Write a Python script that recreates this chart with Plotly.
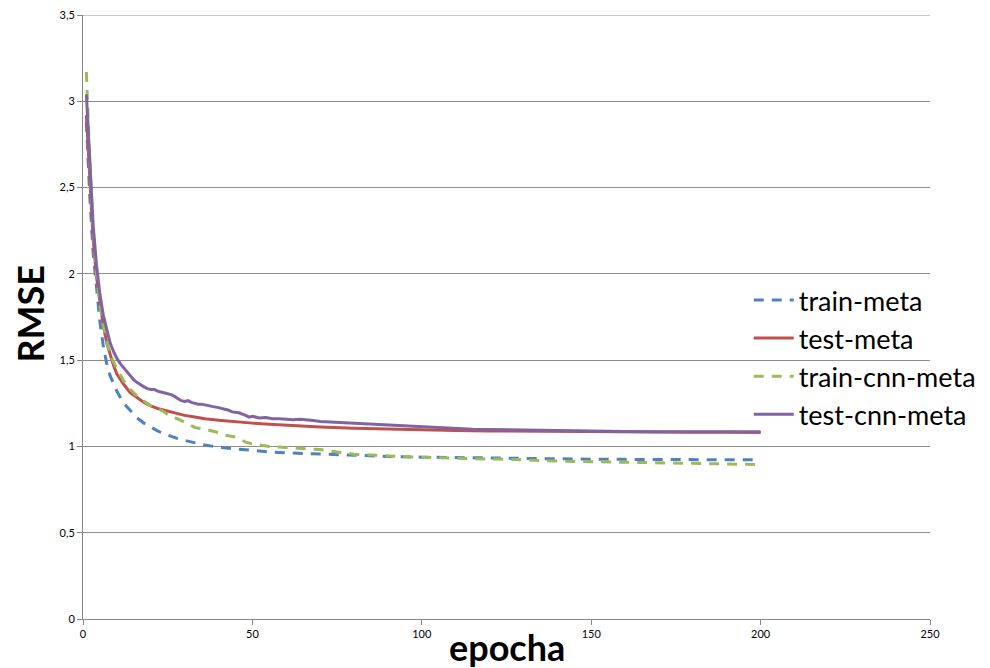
import plotly.graph_objects as go

# ---- data ----
ep_train_meta = [1,2,3,4,5,6,7,8,9,10,12,14,16,18,20,22,24,26,28,30,33,36,40,45,50,55,60,70,80,90,100,110,120,130,140,150,160,170,180,190,200]
train_meta = [2.88,2.45,2.12,1.90,1.72,1.58,1.48,1.41,1.36,1.32,1.25,1.205,1.165,1.135,1.11,1.09,1.072,1.058,1.045,1.035,1.02,1.008,0.995,0.985,0.975,0.968,0.963,0.955,0.948,0.942,0.938,0.935,0.932,0.930,0.928,0.926,0.925,0.924,0.923,0.922,0.922]

ep_test_meta = [1,2,3,4,5,6,7,8,9,10,12,14,16,18,20,22,24,26,28,30,33,36,40,45,50,55,60,70,80,90,100,110,120,130,140,150,160,170,180,190,200]
test_meta = [2.92,2.55,2.20,1.98,1.83,1.70,1.60,1.53,1.47,1.42,1.36,1.31,1.28,1.255,1.235,1.22,1.21,1.20,1.19,1.18,1.17,1.16,1.152,1.142,1.135,1.128,1.122,1.113,1.105,1.100,1.096,1.093,1.090,1.088,1.086,1.085,1.084,1.083,1.082,1.082,1.081]

ep_train_cnn = [1,2,3,4,5,6,7,8,9,10,12,14,16,18,20,22,24,26,28,30,33,36,40,42,45,48,50,55,60,65,70,75,80,85,90,95,100,110,120,130,140,150,160,170,180,190,200]
train_cnn = [3.17,2.65,2.25,2.00,1.82,1.70,1.61,1.54,1.49,1.45,1.38,1.33,1.29,1.26,1.235,1.22,1.20,1.17,1.16,1.14,1.11,1.10,1.08,1.065,1.055,1.025,1.015,1.000,0.993,0.990,0.982,0.968,0.955,0.950,0.945,0.940,0.937,0.932,0.928,0.922,0.915,0.912,0.907,0.903,0.900,0.897,0.895]

ep_test_cnn = [1,2,3,4,5,6,7,8,9,10,11,12,13,14,15,16,17,18,19,20,21,22,23,24,25,26,27,28,29,30,31,32,33,34,35,36,38,40,42,43,44,46,48,49,50,52,54,56,58,60,62,64,66,68,70,75,80,85,90,95,100,105,110,115,120,125,130,140,150,160,170,180,190,200]
test_cnn = [3.04,2.62,2.28,2.05,1.88,1.76,1.67,1.60,1.55,1.51,1.48,1.455,1.43,1.405,1.385,1.37,1.355,1.345,1.335,1.33,1.33,1.32,1.315,1.31,1.305,1.30,1.29,1.275,1.265,1.26,1.265,1.255,1.25,1.245,1.245,1.24,1.232,1.225,1.215,1.21,1.20,1.195,1.18,1.17,1.175,1.165,1.168,1.16,1.16,1.158,1.155,1.158,1.152,1.15,1.145,1.14,1.133,1.128,1.122,1.118,1.112,1.108,1.104,1.10,1.098,1.096,1.094,1.09,1.088,1.086,1.085,1.084,1.084,1.085]

series_names = ["train-meta", "test-meta", "train-cnn-meta", "test-cnn-meta"]
x_ticks = [0, 50, 100, 150, 200, 250]
y_ticks = [0, 0.5, 1, 1.5, 2, 2.5, 3, 3.5]
x_title = "epocha"
y_title = "RMSE"

FONT = "Lato, Carlito, Calibri, sans-serif"
GRID = "#8C8C8C"

fig = go.Figure()
fig.add_trace(go.Scatter(x=ep_train_meta, y=train_meta, name=series_names[0], mode="lines",
                         line=dict(color="#4F81BD", width=3, dash="10px,8px")))
fig.add_trace(go.Scatter(x=ep_test_meta, y=test_meta, name=series_names[1], mode="lines",
                         line=dict(color="#C0504D", width=3)))
fig.add_trace(go.Scatter(x=ep_train_cnn, y=train_cnn, name=series_names[2], mode="lines",
                         line=dict(color="#9BBB59", width=3, dash="10px,8px")))
fig.add_trace(go.Scatter(x=ep_test_cnn, y=test_cnn, name=series_names[3], mode="lines",
                         line=dict(color="#8064A2", width=3)))

# the page adds an 8px body margin, so margins are offset by -8 px
fig.update_layout(
    width=990, height=668,
    margin=dict(l=75, r=68, t=7, b=57, autoexpand=False),
    paper_bgcolor="white", plot_bgcolor="white",
    separators=", ",
    font=dict(family=FONT, color="black"),
    legend=dict(x=0.786, y=0.568, xanchor="left", yanchor="top",
                bgcolor="rgba(0,0,0,0)", font=dict(size=27, family=FONT),
                tracegroupgap=0, itemwidth=40),
    showlegend=True,
    annotations=[
        dict(text="<b>" + x_title + "</b>", xref="paper", yref="paper", x=0.5006, y=-0.046,
             xanchor="center", yanchor="middle", showarrow=False,
             font=dict(size=36, family=FONT, color="black")),
        dict(text="<b>" + y_title + "</b>", xref="paper", yref="paper", x=-0.063, y=0.505,
             xanchor="center", yanchor="middle", showarrow=False, textangle=-90,
             font=dict(size=36, family=FONT, color="black")),
    ],
    shapes=[dict(type="line", xref="paper", yref="y", x0=0, x1=1, y0=y_ticks[-1], y1=y_ticks[-1],
                 line=dict(color=GRID, width=1), layer="below")],
)
fig.update_xaxes(range=[0, 250], tickvals=x_ticks, showgrid=False, automargin=False,
                 showline=True, linecolor="#868686", linewidth=1,
                 ticks="outside", ticklen=5, tickcolor="#868686",
                 tickfont=dict(size=11, family=FONT), ticklabeloverflow="allow",
                 zeroline=False)
fig.update_yaxes(range=[0, 3.5], tickvals=y_ticks, showgrid=True, gridcolor=GRID, gridwidth=1,
                 automargin=False,
                 showline=True, linecolor="#868686", linewidth=1,
                 ticks="outside", ticklen=5, tickcolor="#868686",
                 tickfont=dict(size=11, family=FONT), ticklabeloverflow="allow",
                 zeroline=False)

fig.write_html("out.html")
